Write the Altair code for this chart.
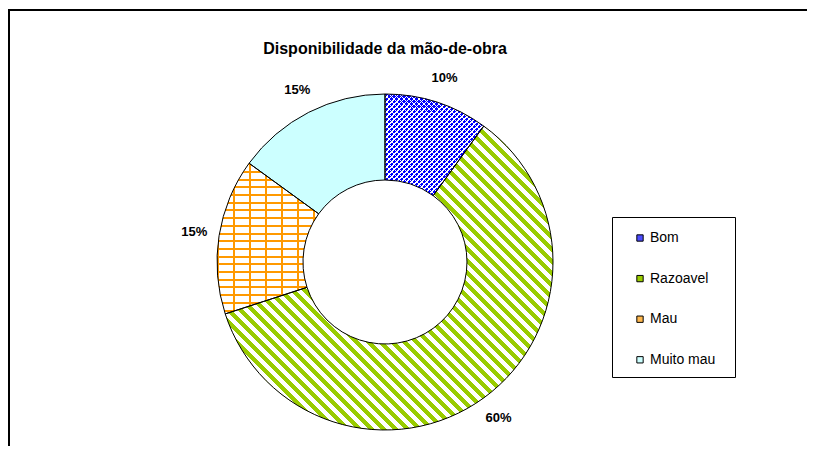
import math
import altair as alt
import pandas as pd

# ---- data ----
categories = ["Bom", "Razoavel", "Mau", "Muito mau"]
values = [10, 60, 15, 15]
labels = ["10%", "60%", "15%", "15%"]
title_text = "Disponibilidade da mão-de-obra"

# ---- layout / style ----
W, H = 799, 438
CX, CY = 377, 254
R_OUT, R_IN = 168, 82
FONT = "Liberation Sans"
BLUE, GREEN, ORANGE, CYAN = "#0000ff", "#99cc00", "#ff9900", "#ccffff"
WHITE, CLEAR = "#ffffff", "rgba(255,255,255,0)"
legend_colors = ["#4d4dff", GREEN, "#ffb84d", CYAN]

df = pd.DataFrame({"cat": categories, "value": values, "label": labels,
                   "order": list(range(len(categories)))})
total = sum(values)


def arc_bbox(a0, a1):
    xs, ys = [], []
    n = 1440
    for i in range(n + 1):
        a = a0 + (a1 - a0) * i / n
        for r in (R_IN, R_OUT):
            xs.append(r * math.sin(a))
            ys.append(-r * math.cos(a))
    return min(xs), min(ys), max(xs), max(ys)


def stripes(bbox, nx, ny, period, bands):
    x0, y0, x1, y1 = bbox
    bw, bh = x1 - x0, y1 - y0
    nrm = math.hypot(nx, ny)
    nx, ny = nx / nrm, ny / nrm
    S = abs(nx) * bw + abs(ny) * bh
    alpha = S / (nx * nx * bw * bw + ny * ny * bh * bh)
    u1 = 0 if nx >= 0 else 1
    v1 = 0 if ny >= 0 else 1
    stops = []
    pos = 0.0
    while pos < S:
        for color, frac in bands:
            a, b = pos, pos + frac * period
            stops.append({"offset": round(min(a / S, 1), 6), "color": color})
            stops.append({"offset": round(min(b / S, 1), 6), "color": color})
            pos = b
    return {"gradient": "linear", "x1": u1, "y1": v1,
            "x2": u1 + alpha * nx * bw, "y2": v1 + alpha * ny * bh,
            "stops": stops}


# slice bounding boxes (for pattern scaling)
bboxes = {}
cum = 0
for c, v in zip(categories, values):
    a0 = 2 * math.pi * cum / total
    cum += v
    a1 = 2 * math.pi * cum / total
    bboxes[c] = arc_bbox(a0, a1)

s2 = math.sqrt(2)
patterns = {
    "Bom": [
        stripes(bboxes["Bom"], 1, 1, 5 / s2, [(BLUE, 0.7), (WHITE, 0.3)]),
        stripes(bboxes["Bom"], 1, -1, 5 / s2, [(WHITE, 0.3), (CLEAR, 0.7)]),
    ],
    "Razoavel": [
        stripes(bboxes["Razoavel"], 1, -1, 12 / s2, [(GREEN, 0.5), (WHITE, 0.5)]),
    ],
    "Mau": [
        stripes(bboxes["Mau"], 1, 0, 16, [(ORANGE, 2 / 16), (WHITE, 14 / 16)]),
        stripes(bboxes["Mau"], 0, 1, 7.7, [(ORANGE, 2 / 7.7), (CLEAR, 5.7 / 7.7)]),
    ],
}

base = alt.Chart(df).transform_window(
    cum="sum(value)", sort=[alt.SortField("order")], frame=[None, 0]
).transform_calculate(
    start="datum.cum - datum.value", mid="datum.cum - datum.value / 2"
)

theta_scale = alt.Scale(domain=[0, total], range=[0, 2 * math.pi])
arc_enc = dict(
    theta=alt.Theta("start:Q", scale=theta_scale, stack=False),
    theta2=alt.Theta2("cum:Q"),
    x=alt.value(CX),
    y=alt.value(CY),
)

legend = alt.Legend(
    title=None, orient="none", legendX=625, legendY=223,
    symbolType="square", symbolSize=40, symbolStrokeColor="black",
    symbolStrokeWidth=1, labelFont=FONT, labelFontSize=14, labelColor="black",
    labelOffset=3, rowPadding=26.6, clipHeight=14, padding=0,
)

layers = []

dummy = alt.Chart(pd.DataFrame({"a": [0]}))
layers.append(dummy.mark_rule(color="black", strokeWidth=2).encode(
    x=alt.value(0), x2=alt.value(W), y=alt.value(2)))
layers.append(dummy.mark_rule(color="black", strokeWidth=2).encode(
    x=alt.value(1), y=alt.value(1), y2=alt.value(H)))

layers.append(base.mark_arc(radius=R_OUT, radius2=R_IN).encode(
    fill=alt.Fill("cat:N", scale=alt.Scale(domain=categories, range=legend_colors),
                  legend=legend),
    **arc_enc))

for cat, grads in patterns.items():
    for g in grads:
        layers.append(base.transform_filter(alt.datum.cat == cat).mark_arc(
            radius=R_OUT, radius2=R_IN, fill=g).encode(**arc_enc))

layers.append(base.mark_arc(radius=R_OUT, radius2=R_IN, filled=False,
                            stroke="black", strokeWidth=1).encode(**arc_enc))

layers.append(base.mark_text(radius=193, font=FONT, fontSize=13, fontWeight="bold",
                             color="black", align="center", baseline="middle").encode(
    theta=alt.Theta("mid:Q", scale=theta_scale, stack=False),
    text="label:N", x=alt.value(CX), y=alt.value(CY)))

layers.append(alt.Chart(pd.DataFrame({"t": [title_text]})).mark_text(
    font=FONT, fontSize=16, fontWeight="bold", color="black",
    align="center", baseline="alphabetic").encode(
    text="t:N", x=alt.value(CX), y=alt.value(45.5)))

layers.append(dummy.mark_rect(filled=False, stroke="black", strokeWidth=1).encode(
    x=alt.value(604.5), x2=alt.value(727.5), y=alt.value(209.5), y2=alt.value(369.5)))

chart = alt.layer(*layers).properties(
    width=W, height=H, padding=0, autosize=alt.AutoSizeParams(type="none")
).configure_view(stroke="transparent")

chart.save("out.html", embed_options={"renderer": "svg", "actions": False})
